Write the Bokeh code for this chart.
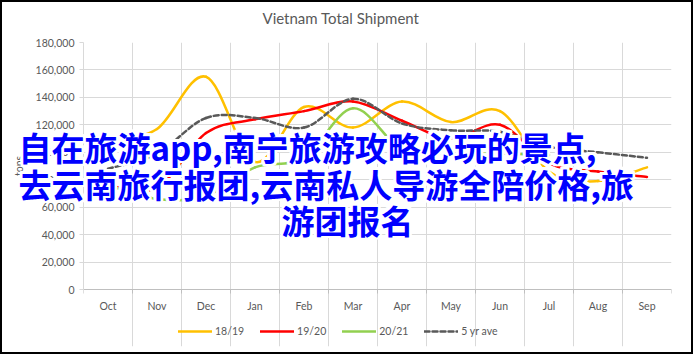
import math
from bokeh.plotting import figure
from bokeh.models import (Range1d, FixedTicker, NumeralTickFormatter, ColumnDataSource,
                          Legend, LegendItem, Title)
from bokeh.core.properties import value
from bokeh.embed import file_html
from bokeh.resources import INLINE

# Monthly shipments (tons), marketing year Oct-Sep
months = ["Oct", "Nov", "Dec", "Jan", "Feb", "Mar", "Apr", "May", "Jun", "Jul", "Aug", "Sep"]
ship_1819 = [108000, 117000, 155000, 93000, 133000, 118000, 137000, 122000, 130000, 86000, 79000, 89000]
ship_1920 = [76000, 74000, 114000, 124000, 130000, 137000, 123000, 110000, 120000, 92000, 86000, 82000]
ship_2021 = [76000, 66000, 68000, 89000, 96000, 132000, 102000, 99000, 99000, 98000]
ship_5yr = [88000, 99000, 125000, 125000, 118000, 139000, 121000, 116000, 115000, 104000, 100000, 96000]
y_ticks = [0, 20000, 40000, 60000, 80000, 100000, 120000, 140000, 160000, 180000]
Y_MAX = 180000

overlay_lines = ["自在旅游app,南宁旅游攻略必玩的景点,",
                 "去云南旅行报团,云南私人导游全陪价格,旅",
                 "游团报名"]

FONT = "Lato"
GREY = "#595959"
W, H = 693, 354

# page layout (px): plot frame top, value-axis zero line, frame bottom (legend sits below zero)
TOP, ZERO, BOTTOM = 42, 289, 346
y_low = -(BOTTOM - ZERO) / (ZERO - TOP) * Y_MAX


def smooth_segments(values):
    """Cubic Bezier pieces through each month point (spreadsheet-style smoothed line)."""
    xs = [i + 0.5 for i in range(len(values))]
    pts = list(zip(xs, values))
    n = len(pts)
    d = dict(x0=[], y0=[], x1=[], y1=[], cx0=[], cy0=[], cx1=[], cy1=[])
    for i in range(n - 1):
        p0 = pts[i - 1] if i > 0 else pts[i]
        p1, p2 = pts[i], pts[i + 1]
        p3 = pts[i + 2] if i + 2 < n else pts[i + 1]
        d["x0"].append(p1[0]); d["y0"].append(p1[1])
        d["x1"].append(p2[0]); d["y1"].append(p2[1])
        d["cx0"].append(p1[0] + (p2[0] - p0[0]) / 6)
        d["cy0"].append(p1[1] + (p2[1] - p0[1]) / 6)
        d["cx1"].append(p2[0] - (p3[0] - p1[0]) / 6)
        d["cy1"].append(p2[1] - (p3[1] - p1[1]) / 6)
    return ColumnDataSource(d)


p = figure(width=W, height=H, output_backend="svg", toolbar_location=None,
           x_range=Range1d(0, len(months)), y_range=Range1d(y_low, Y_MAX),
           min_border_left=83, min_border_right=22, min_border_top=TOP,
           min_border_bottom=H - BOTTOM)
p.outline_line_color = None
p.background_fill_color = "white"
p.border_fill_color = "white"

# spacer keeps the chart title clear of the plot area
p.add_layout(Title(text=" ", text_font_size="8px", standoff=0), "above")
p.add_layout(Title(text="Vietnam Total Shipment", text_font=FONT, text_font_size="15px",
                   text_font_style="normal", text_color=GREY, align="left", offset=179),
             "above")

# x axis pinned to the zero line: labels at month centres, ticks/grid on month boundaries
centres = [i + 0.5 for i in range(len(months))]
bounds = list(range(len(months) + 1))
p.xaxis.fixed_location = 0
p.xaxis.ticker = FixedTicker(ticks=centres, minor_ticks=bounds)
p.xaxis.major_label_overrides = {c: m for c, m in zip(centres, months)}
p.xaxis.major_tick_out = 0
p.xaxis.major_tick_in = 0
p.xaxis.minor_tick_out = 4
p.xaxis.minor_tick_in = 0
p.xaxis.minor_tick_line_color = "#BFBFBF"
p.xaxis.axis_line_color = "#BFBFBF"
p.xaxis.major_label_standoff = 6
p.xgrid.ticker = FixedTicker(ticks=bounds)
p.xgrid.bounds = (0, Y_MAX)

p.yaxis.ticker = FixedTicker(ticks=y_ticks)
p.yaxis.bounds = (0, Y_MAX)
p.yaxis.formatter = NumeralTickFormatter(format="0,0")
p.yaxis.major_tick_out = 4
p.yaxis.major_tick_in = 0
p.yaxis.minor_tick_out = 0
p.yaxis.minor_tick_in = 0
p.yaxis.major_tick_line_color = "#D9D9D9"
p.yaxis.axis_line_color = "#D9D9D9"
p.yaxis.major_label_standoff = 5

for ax in (p.xaxis, p.yaxis):
    ax.major_label_text_font = FONT
    ax.major_label_text_font_size = "10.5px"
    ax.major_label_text_color = GREY

for g in (p.xgrid, p.ygrid):
    g.grid_line_color = "#D9D9D9"
    g.grid_line_width = 1

series = [
    ("18/19", ship_1819, "#FFC000", "solid"),
    ("19/20", ship_1920, "#FF0000", "solid"),
    ("20/21", ship_2021, "#92D050", "solid"),
    ("5 yr ave", ship_5yr, "#595959", "5 3"),
]
items = []
for name, vals, color, dash in series:
    r = p.bezier(x0="x0", y0="y0", x1="x1", y1="y1", cx0="cx0", cy0="cy0",
                 cx1="cx1", cy1="cy1", source=smooth_segments(vals),
                 line_color=color, line_width=2.5, line_dash=dash, line_cap="round")
    items.append(LegendItem(label=name, renderers=[r]))

legend = Legend(items=items, orientation="horizontal", location=(95, 8),
                label_text_font=FONT, label_text_font_size="10.5px", label_text_color=GREY,
                glyph_width=34, glyph_height=14, label_standoff=3, spacing=16,
                padding=2, margin=0, border_line_color=None, background_fill_alpha=0)
p.add_layout(legend)

# transparent full-page layer: value-axis title and the blue caption with its white halo
cap = figure(width=W, height=H, output_backend="svg", toolbar_location=None,
             x_range=Range1d(0, W), y_range=Range1d(H, 0),
             x_axis_location=None, y_axis_location=None,
             min_border=0, min_border_left=0, min_border_right=0,
             min_border_top=0, min_border_bottom=0)
cap.grid.visible = False
cap.outline_line_color = None
cap.background_fill_color = None
cap.border_fill_color = None
cap.styles = {"position": "absolute", "left": "0px", "top": "0px"}

cap.text(x=[18], y=[(TOP + ZERO) / 2], text=["tons"], angle=math.pi / 2,
         text_font=value(FONT), text_font_size="10.5px", text_color=GREY,
         text_align="center", text_baseline="middle")

cap_src = ColumnDataSource(dict(x=[18, 18, 281], y=[146, 183, 219], text=overlay_lines))
halo = [(dx, dy) for dx in (-2.5, -1.2, 0, 1.2, 2.5) for dy in (-2.5, -1.2, 0, 1.2, 2.5)
        if (dx, dy) != (0, 0)]
for dx, dy in halo:
    cap.text(x="x", y="y", text="text", source=cap_src, x_offset=dx, y_offset=dy,
             text_font=value("Noto Sans CJK SC"), text_font_style="bold",
             text_font_size="33px", text_color="white",
             text_baseline="middle", text_align="left")
cap.text(x="x", y="y", text="text", source=cap_src,
         text_font=value("Noto Sans CJK SC"), text_font_style="bold",
         text_font_size="33px", text_color="#0000FF",
         text_baseline="middle", text_align="left")

html = file_html([p, cap], INLINE)
# black frame drawn round the whole chart
html = html.replace("</body>", '<div style="position:fixed;left:0;top:0;width:693px;height:354px;'
                    'border:2px solid black;box-sizing:border-box;pointer-events:none"></div></body>')
open("out.html", "w").write(html)
